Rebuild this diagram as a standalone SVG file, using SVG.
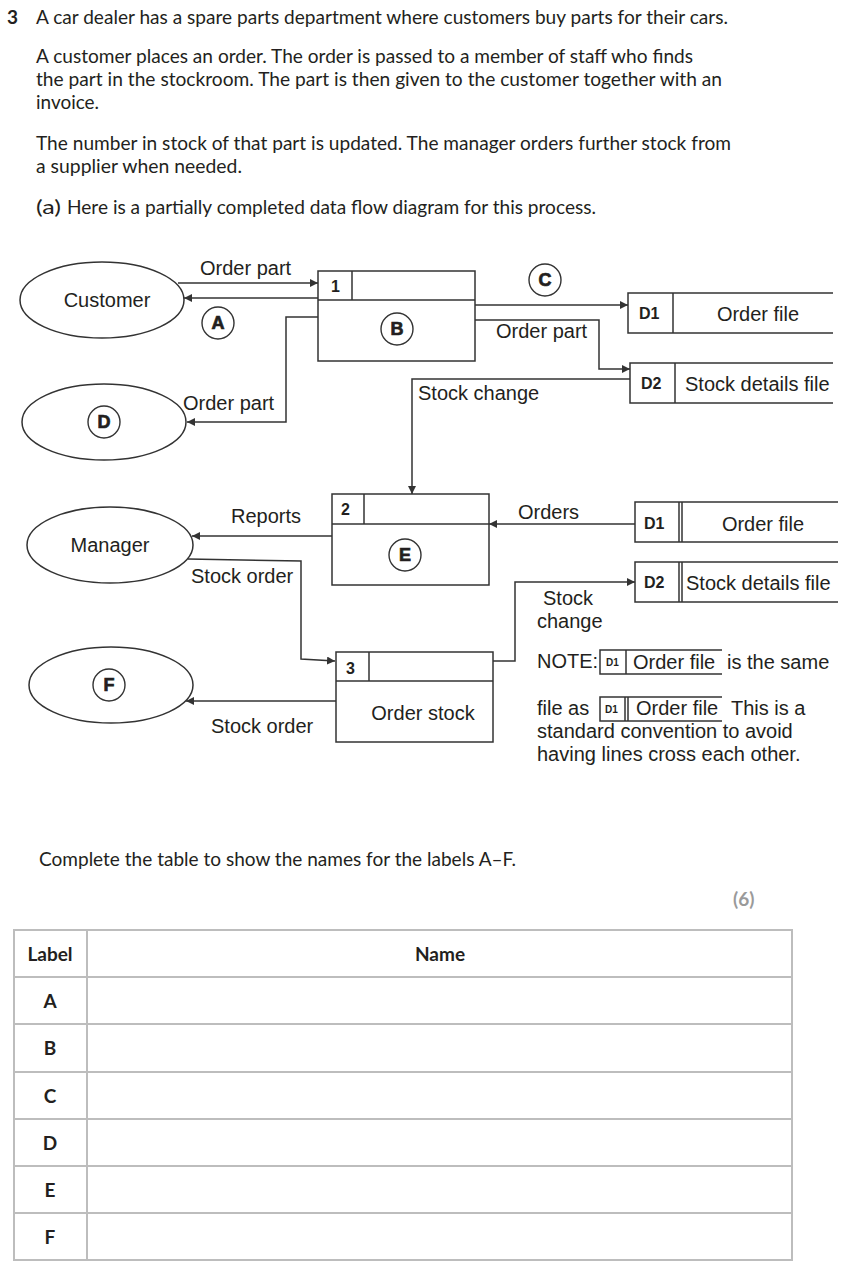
<svg xmlns="http://www.w3.org/2000/svg" width="845" height="1275" viewBox="0 0 845 1275">
<style>
.body{font-family:Lato,"Liberation Sans",sans-serif;font-size:19px;fill:#231f20}
.bold{font-weight:bold}
.t{font-family:"Liberation Sans",Arial,sans-serif;font-size:20px;fill:#231f20}
.tc{text-anchor:middle}
.lbl{font-family:"Liberation Sans",Arial,sans-serif;font-size:18px;font-weight:bold;fill:#231f20;stroke:#231f20;stroke-width:0.7;text-anchor:middle}
.ds{font-family:"Liberation Sans",Arial,sans-serif;font-size:16px;font-weight:bold;fill:#231f20}
.dsm{font-family:"Liberation Sans",Arial,sans-serif;font-size:10px;font-weight:bold;fill:#231f20}
.ln{fill:none;stroke:#333;stroke-width:1.5}
.sh{fill:#fff;stroke:#333;stroke-width:1.5}
.circ{fill:#fff;stroke:#333;stroke-width:1.4}
.tb{fill:none;stroke:#bdbdbd;stroke-width:2}
.tt{font-family:Lato,"Liberation Sans",sans-serif;font-size:19px;font-weight:bold;fill:#231f20;text-anchor:middle}
</style>
<defs>
<marker id="ah" viewBox="0 0 10 10" refX="10" refY="5" markerWidth="8" markerHeight="8" markerUnits="userSpaceOnUse" orient="auto">
<path d="M0,0 L10,5 L0,10 z" fill="#333"/>
</marker>
</defs>
<rect width="845" height="1275" fill="#fff"/>

<g id="question">
<text class="body bold" x="7" y="24">3</text>
<text class="body" x="36" y="24" textLength="692" lengthAdjust="spacingAndGlyphs">A car dealer has a spare parts department where customers buy parts for their cars.</text>
<text class="body" x="36" y="63" textLength="657" lengthAdjust="spacingAndGlyphs">A customer places an order. The order is passed to a member of staff who finds</text>
<text class="body" x="36" y="86" textLength="686" lengthAdjust="spacingAndGlyphs">the part in the stockroom. The part is then given to the customer together with an</text>
<text class="body" x="36" y="109" textLength="63" lengthAdjust="spacingAndGlyphs">invoice.</text>
<text class="body" x="36" y="150" textLength="695" lengthAdjust="spacingAndGlyphs">The number in stock of that part is updated. The manager orders further stock from</text>
<text class="body" x="36" y="173" textLength="206" lengthAdjust="spacingAndGlyphs">a supplier when needed.</text>
<text class="body" x="36" y="214" textLength="25" lengthAdjust="spacingAndGlyphs">(a)</text>
<text class="body" x="67" y="214" textLength="529" lengthAdjust="spacingAndGlyphs">Here is a partially completed data flow diagram for this process.</text>
</g>

<g id="connectors">
<line class="ln" x1="178" y1="283" x2="318" y2="283" marker-end="url(#ah)"/>
<line class="ln" x1="318" y1="298" x2="184" y2="298" marker-end="url(#ah)"/>
<polyline class="ln" points="318,317 286,317 286,422 187,422" marker-end="url(#ah)"/>
<line class="ln" x1="475" y1="305" x2="628" y2="305" marker-end="url(#ah)"/>
<polyline class="ln" points="475,320 599,320 599,369 630,369" marker-end="url(#ah)"/>
<polyline class="ln" points="630,379 412,379 412,494" marker-end="url(#ah)"/>
<line class="ln" x1="332" y1="536" x2="192" y2="536" marker-end="url(#ah)"/>
<polyline class="ln" points="188,559 301,561 301,659 335,661" marker-end="url(#ah)"/>
<line class="ln" x1="336" y1="701" x2="186" y2="701" marker-end="url(#ah)"/>
<line class="ln" x1="635" y1="524" x2="489" y2="524" marker-end="url(#ah)"/>
<polyline class="ln" points="493,661 515,661 515,582 635,582" marker-end="url(#ah)"/>
<text class="t" x="200" y="275">Order part</text>
<text class="t" x="183" y="410">Order part</text>
<text class="t" x="496" y="338">Order part</text>
<text class="t" x="418" y="400">Stock change</text>
<text class="t" x="231" y="523">Reports</text>
<text class="t" x="191" y="583">Stock order</text>
<text class="t" x="211" y="733">Stock order</text>
<text class="t" x="518" y="519">Orders</text>
<text class="t" x="543" y="605">Stock</text>
<text class="t" x="537" y="628">change</text>
<circle class="circ" cx="218" cy="323" r="16"/>
<text class="lbl" x="218" y="329">A</text>
<circle class="circ" cx="545" cy="280" r="16"/>
<text class="lbl" x="545" y="286">C</text>
</g>

<g id="customer">
<ellipse class="sh" cx="102" cy="300" rx="82" ry="38"/>
<text class="t tc" x="107" y="307">Customer</text>
</g>

<g id="entity-d">
<ellipse class="sh" cx="104" cy="422" rx="82" ry="38"/>
<circle class="circ" cx="104" cy="422" r="16"/>
<text class="lbl" x="104" y="428">D</text>
</g>

<g id="manager">
<ellipse class="sh" cx="110" cy="545" rx="83" ry="38"/>
<text class="t tc" x="110" y="552">Manager</text>
</g>

<g id="entity-f">
<ellipse class="sh" cx="111" cy="685" rx="82" ry="38"/>
<circle class="circ" cx="109" cy="685" r="16"/>
<text class="lbl" x="109" y="691">F</text>
</g>

<g id="process-1">
<rect class="sh" x="318" y="271" width="157" height="90"/>
<line class="ln" x1="318" y1="300" x2="475" y2="300"/>
<line class="ln" x1="352" y1="271" x2="352" y2="300"/>
<text class="ds" x="331" y="292">1</text>
<circle class="circ" cx="397" cy="329" r="16"/>
<text class="lbl" x="397" y="335">B</text>
</g>

<g id="process-2">
<rect class="sh" x="332" y="494" width="157" height="91"/>
<line class="ln" x1="332" y1="524" x2="489" y2="524"/>
<line class="ln" x1="364" y1="494" x2="364" y2="524"/>
<text class="ds" x="341" y="515">2</text>
<circle class="circ" cx="405" cy="555" r="16"/>
<text class="lbl" x="405" y="561">E</text>
</g>

<g id="process-3">
<rect class="sh" x="336" y="652" width="157" height="90"/>
<line class="ln" x1="336" y1="681" x2="493" y2="681"/>
<line class="ln" x1="369" y1="652" x2="369" y2="681"/>
<text class="ds" x="346" y="674">3</text>
<text class="t tc" x="423" y="720">Order stock</text>
</g>

<g id="store-d1-top">
<polyline class="ln" points="833,293 628,293 628,333 833,333"/>
<line class="ln" x1="673" y1="293" x2="673" y2="333"/>
<text class="ds" x="639" y="319">D1</text>
<text class="t tc" x="758" y="321">Order file</text>
</g>

<g id="store-d2-top">
<polyline class="ln" points="833,363 630,363 630,403 833,403"/>
<line class="ln" x1="675" y1="363" x2="675" y2="403"/>
<text class="ds" x="641" y="389">D2</text>
<text class="t" x="685" y="391">Stock details file</text>
</g>

<g id="store-d1-bottom">
<polyline class="ln" points="838,502 635,502 635,542 838,542"/>
<line class="ln" x1="679" y1="502" x2="679" y2="542"/>
<line class="ln" x1="682" y1="502" x2="682" y2="542"/>
<text class="ds" x="644" y="529">D1</text>
<text class="t tc" x="763" y="531">Order file</text>
</g>

<g id="store-d2-bottom">
<polyline class="ln" points="838,562 635,562 635,602 838,602"/>
<line class="ln" x1="679" y1="562" x2="679" y2="602"/>
<line class="ln" x1="682" y1="562" x2="682" y2="602"/>
<text class="ds" x="644" y="588">D2</text>
<text class="t" x="686" y="590">Stock details file</text>
</g>

<g id="note">
<text class="t" x="537" y="668">NOTE:</text>
<polyline class="ln" points="722,650 600,650 600,674 722,674" stroke-width="1.2"/>
<line class="ln" x1="626" y1="650" x2="626" y2="674" stroke-width="1.2"/>
<text class="dsm" x="606" y="666">D1</text>
<text class="t" x="633" y="669">Order file</text>
<text class="t" x="727" y="669">is the same</text>
<text class="t" x="537" y="715">file as</text>
<polyline class="ln" points="722,697 600,697 600,721 722,721" stroke-width="1.2"/>
<line class="ln" x1="625" y1="697" x2="625" y2="721" stroke-width="1.2"/>
<line class="ln" x1="628" y1="697" x2="628" y2="721" stroke-width="1.2"/>
<text class="dsm" x="605" y="713">D1</text>
<text class="t" x="636" y="715">Order file</text>
<text class="t" x="731" y="715">This is a</text>
<text class="t" x="537" y="738">standard convention to avoid</text>
<text class="t" x="537" y="761">having lines cross each other.</text>
</g>

<g id="table">
<text class="body" x="39" y="866" textLength="477" lengthAdjust="spacingAndGlyphs">Complete the table to show the names for the labels A–F.</text>
<text class="body bold" x="733" y="906" style="fill:#9a9a9a">(6)</text>
<rect class="tb" x="14" y="930" width="778" height="330"/>
<line class="tb" x1="87" y1="930" x2="87" y2="1260"/>
<line class="tb" x1="14" y1="977" x2="792" y2="977"/>
<line class="tb" x1="14" y1="1024" x2="792" y2="1024"/>
<line class="tb" x1="14" y1="1072" x2="792" y2="1072"/>
<line class="tb" x1="14" y1="1119" x2="792" y2="1119"/>
<line class="tb" x1="14" y1="1166" x2="792" y2="1166"/>
<line class="tb" x1="14" y1="1213" x2="792" y2="1213"/>
<text class="tt" x="50" y="961">Label</text>
<text class="tt" x="440" y="961">Name</text>
<text class="tt" x="50" y="1008">A</text>
<text class="tt" x="50" y="1055">B</text>
<text class="tt" x="50" y="1103">C</text>
<text class="tt" x="50" y="1150">D</text>
<text class="tt" x="50" y="1197">E</text>
<text class="tt" x="50" y="1244">F</text>
</g>
</svg>
